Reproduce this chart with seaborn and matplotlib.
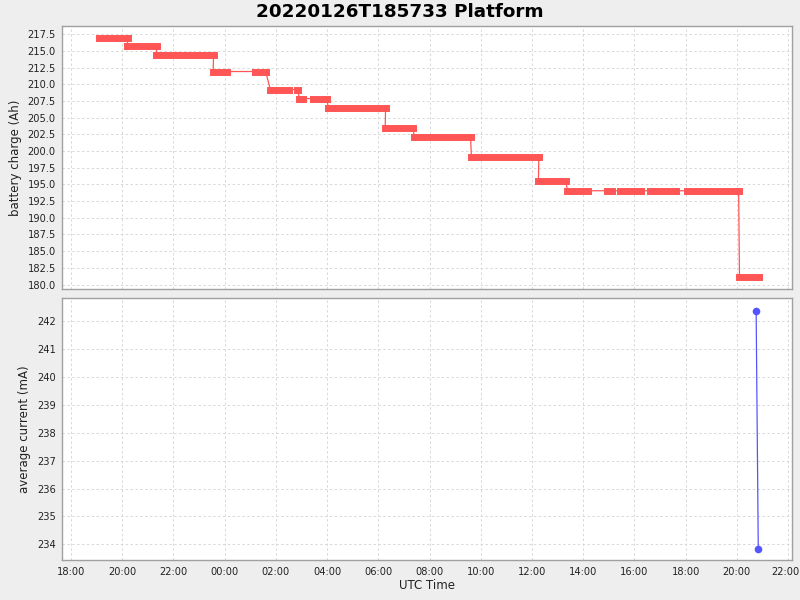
import pandas as pd
import matplotlib
matplotlib.use("Agg")
import matplotlib.pyplot as plt
import matplotlib.dates as mdates
import matplotlib.transforms as mtransforms
import seaborn as sns

# --- data ---
# battery charge steps: start time, end time, charge (Ah)
step_start = [
    "2022-01-26 19:06", "2022-01-26 20:12", "2022-01-26 21:20", "2022-01-26 23:33",
    "2022-01-27 01:12", "2022-01-27 01:47", "2022-01-27 02:50", "2022-01-27 02:55",
    "2022-01-27 03:28", "2022-01-27 04:03", "2022-01-27 06:16", "2022-01-27 07:24",
    "2022-01-27 09:38", "2022-01-27 12:15", "2022-01-27 13:23", "2022-01-27 14:56",
    "2022-01-27 15:25", "2022-01-27 16:36", "2022-01-27 18:04", "2022-01-27 20:06",
]
step_end = [
    "2022-01-26 20:13", "2022-01-26 21:21", "2022-01-26 23:34", "2022-01-27 00:05",
    "2022-01-27 01:36", "2022-01-27 02:30", "2022-01-27 02:51", "2022-01-27 03:03",
    "2022-01-27 03:59", "2022-01-27 06:17", "2022-01-27 07:21", "2022-01-27 09:36",
    "2022-01-27 12:16", "2022-01-27 13:19", "2022-01-27 14:11", "2022-01-27 15:07",
    "2022-01-27 16:15", "2022-01-27 17:37", "2022-01-27 20:04", "2022-01-27 20:51",
]
charge_ah = [
    216.85, 215.65, 214.3, 211.9, 211.9, 209.2, 209.2, 207.85, 207.85, 206.5,
    203.5, 202.15, 199.15, 195.55, 194.05, 194.05, 194.05, 194.05, 194.05, 181.15,
]

# average current samples
current_time = ["2022-01-27 20:45", "2022-01-27 20:50"]
current_ma = [242.38, 233.84]

x_min, x_max = "2022-01-26 17:39", "2022-01-27 22:09"

RED = "#FF5555"
BLUE = "#5555FF"
BG = "#EEEEEE"
EDGE = "#A0A0A0"

sns.set_style("white")
plt.rcParams["font.family"] = ["DejaVu Sans"]

steps = pd.DataFrame({
    "start": pd.to_datetime(step_start),
    "end": pd.to_datetime(step_end),
    "charge": charge_ah,
})
# path through every step endpoint (thin connecting line)
path = pd.DataFrame({
    "time": pd.concat([steps["start"], steps["end"]]).sort_index(kind="stable").values,
    "charge": pd.concat([steps["charge"], steps["charge"]]).sort_index(kind="stable").values,
})
cur = pd.DataFrame({"time": pd.to_datetime(current_time), "current": current_ma})

fig = plt.figure(figsize=(8, 6), dpi=100, facecolor=BG)
ax1 = fig.add_axes([0.0775, 0.519, 0.9125, 0.4375])
ax2 = fig.add_axes([0.0775, 0.0662, 0.9125, 0.4367], sharex=ax1)

sns.lineplot(data=path, x="time", y="charge", sort=False, estimator=None,
             color=RED, linewidth=0.9, ax=ax1)
for _, r in steps.iterrows():
    ax1.plot([r["start"], r["end"]], [r["charge"], r["charge"]], color=RED,
             linewidth=5.0, solid_capstyle="projecting")

sns.lineplot(data=cur, x="time", y="current", sort=False, estimator=None,
             color=BLUE, linewidth=0.9, marker="o", markersize=5.5,
             markeredgewidth=0, ax=ax2)

grid_kw = dict(color="#D8D8D8", linestyle=(0, (2.5, 2.5)), linewidth=0.7)
for ax in (ax1, ax2):
    ax.set_facecolor("white")
    ax.grid(True, **grid_kw)
    ax.set_axisbelow(True)
    for s in ax.spines.values():
        s.set_color(EDGE)
        s.set_linewidth(1.0)
    ax.tick_params(axis="both", direction="out", length=2.5, width=0.7,
                   color="#888888", labelsize=7.1, labelcolor="#222222", pad=2)

ax1.set_ylim(179.4, 218.7)
ax1.set_yticks([180 + 2.5 * i for i in range(16)])
ax1.yaxis.set_major_formatter(matplotlib.ticker.FormatStrFormatter("%.1f"))
ax1.set_ylabel("battery charge (Ah)", fontsize=8.5, color="#222222")
ax1.set_xlabel("")
ax1.tick_params(axis="x", labelbottom=False, length=0)

ax2.set_ylim(233.43, 242.82)
ax2.set_yticks(range(234, 243))
ax2.set_ylabel("average current (mA)", fontsize=8.5, color="#222222")
ax2.set_xlabel("UTC Time", fontsize=8.5, color="#222222", labelpad=2)
ax2.set_xlim(pd.Timestamp(x_min), pd.Timestamp(x_max))
ax2.xaxis.set_major_locator(mdates.HourLocator(byhour=range(0, 24, 2)))
ax2.xaxis.set_major_formatter(mdates.DateFormatter("%H:%M"))

# nudge the last time label so it stays inside the canvas
fig.canvas.draw()
last = ax2.get_xticklabels()[-1]
last.set_transform(last.get_transform()
                   + mtransforms.ScaledTranslation(-3 / 100, 0, fig.dpi_scale_trans))

fig.text(0.5, 0.98, "20220126T185733 Platform", ha="center", va="center",
         fontsize=13.2, fontweight="bold", color="black")

fig.savefig("out.png", dpi=100, facecolor=BG)
